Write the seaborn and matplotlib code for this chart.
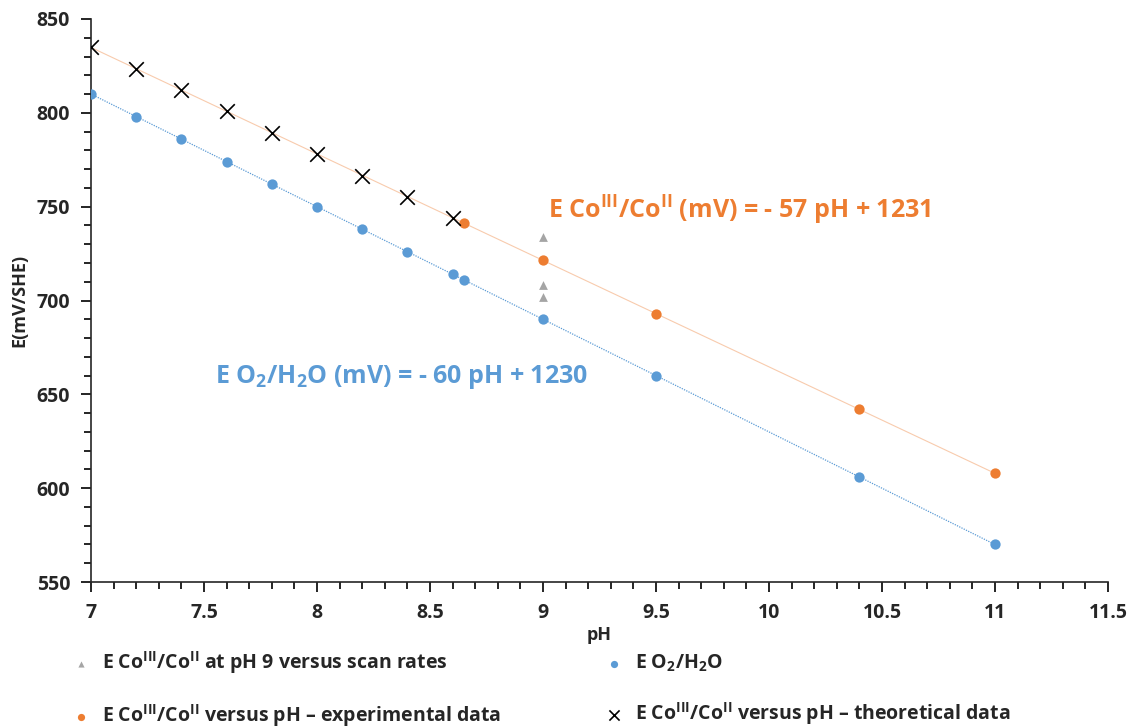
import numpy as np
import pandas as pd
import matplotlib
matplotlib.use('Agg')
import matplotlib.pyplot as plt
import seaborn as sns
from matplotlib.ticker import MultipleLocator

# data
ph_o2 = [7.0, 7.2, 7.4, 7.6, 7.8, 8.0, 8.2, 8.4, 8.6, 8.65, 9.0, 9.5, 10.4, 11.0]
e_o2 = [810, 798, 786, 774, 762, 750, 738, 726, 714, 711, 690, 660, 606, 570]

ph_exp = [8.65, 9.0, 9.5, 10.4, 11.0]
e_exp = [741.5, 721.5, 693, 642, 608]

ph_theo = [7.0, 7.2, 7.4, 7.6, 7.8, 8.0, 8.2, 8.4, 8.6]
e_theo = [835, 823.6, 812.2, 800.8, 789.4, 778, 766.6, 755.2, 743.8]

ph_scan = [9.0, 9.0, 9.0]
e_scan = [734, 708, 702]

blue = '#5B9BD5'
orange = '#ED7D31'
grey = '#A5A5A5'

sns.set_style('ticks')
plt.rcParams['font.family'] = ['Open Sans', 'DejaVu Sans']
plt.rcParams['font.weight'] = 'bold'
plt.rcParams['mathtext.fontset'] = 'custom'
plt.rcParams['mathtext.rm'] = 'Open Sans:bold'
plt.rcParams['mathtext.bf'] = 'Open Sans:bold'
plt.rcParams['mathtext.default'] = 'bf'

fig = plt.figure(figsize=(11.28, 7.27), dpi=100)
ax = fig.add_axes([0.0807, 0.1994, 0.9015, 0.7745])

#trend lines (linear fits)
xfit = np.array([7.0, 11.0])
co_ph = ph_theo + ph_exp
co_e = e_theo + e_exp
k1 = np.polyfit(co_ph, co_e, 1)
ax.plot(xfit, np.polyval(k1, xfit), color='#F8CBAD', lw=0.8, zorder=1)
k2 = np.polyfit(ph_o2, e_o2, 1)
ax.plot(xfit, np.polyval(k2, xfit), color=blue, lw=0.9, ls=(0, (1, 1)), zorder=1)

sns.scatterplot(x=ph_scan, y=e_scan, ax=ax, marker='^', color=grey, s=40, linewidth=0,
                label='E Co$^{III}$/Co$^{II}$ at pH 9 versus scan rates', zorder=3)
sns.scatterplot(x=ph_exp, y=e_exp, ax=ax, marker='o', color=orange, s=55, linewidth=0,
                label='E Co$^{III}$/Co$^{II}$ versus pH \u2013 experimental data', zorder=3)
sns.scatterplot(x=ph_o2, y=e_o2, ax=ax, marker='o', color=blue, s=55, linewidth=0,
                label='E O$_2$/H$_2$O', zorder=3)
sns.scatterplot(x=ph_theo, y=e_theo, ax=ax, marker='x', color='black', s=110, linewidth=1.2,
                label='E Co$^{III}$/Co$^{II}$ versus pH \u2013 theoretical data', zorder=4)

ax.set_xlim(7, 11.5)
ax.set_ylim(550, 850)
ax.xaxis.set_major_locator(MultipleLocator(0.5))
ax.xaxis.set_minor_locator(MultipleLocator(0.1))
ax.yaxis.set_major_locator(MultipleLocator(50))
ax.yaxis.set_minor_locator(MultipleLocator(10))
ax.set_xticklabels([f'{v:g}' for v in ax.get_xticks()])
ax.tick_params(which='both', direction='out', color='black', width=1.2)
ax.tick_params(which='major', length=7, labelsize=14, pad=8)
ax.tick_params(which='minor', length=5)
for lab in ax.get_xticklabels() + ax.get_yticklabels():
    lab.set_fontweight('bold')
sns.despine(ax=ax)
ax.spines['left'].set_linewidth(1.2)
ax.spines['bottom'].set_linewidth(1.2)

ax.set_xlabel('pH', fontsize=13, fontweight='bold', labelpad=2)
ax.set_ylabel('E(mV/SHE)', fontsize=13, fontweight='bold', labelpad=6)

ax.text(9.02, 748, 'E Co$^{III}$/Co$^{II}$ (mV) = - 57 pH + 1231', color=orange,
        fontsize=18, fontweight='bold', va='center', ha='left')
ax.text(7.55, 659, 'E O$_2$/H$_2$O (mV) = - 60 pH + 1230', color=blue,
        fontsize=18, fontweight='bold', va='center', ha='left')

leg = ax.legend(loc='upper left', bbox_to_anchor=(-0.037, -0.088), ncol=2, frameon=False,
                fontsize=14, columnspacing=5.3, handlelength=1.0, handletextpad=0.6,
                labelspacing=1.35, markerscale=0.7)
for t in leg.get_texts():
    t.set_fontweight('bold')

fig.savefig('out.png', dpi=100)
